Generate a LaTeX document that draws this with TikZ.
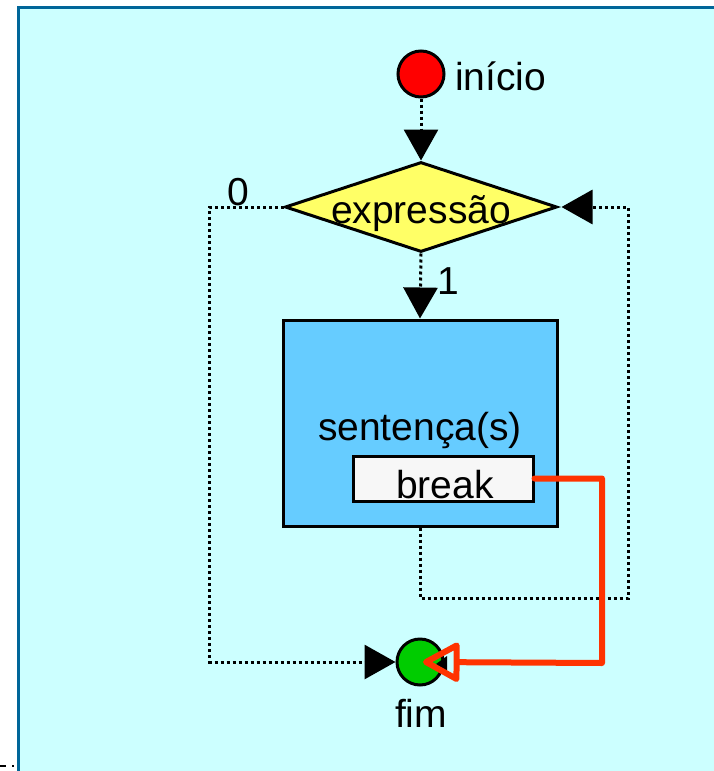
\documentclass[tikz,border=0pt]{standalone}
\usepackage{fontspec}
\setmainfont{Liberation Sans}
\usetikzlibrary{shapes.geometric,arrows.meta}
\definecolor{bgcyan}{RGB}{204,255,255}
\definecolor{frameblue}{RGB}{0,102,153}
\definecolor{boxblue}{RGB}{102,204,255}
\definecolor{condyellow}{RGB}{255,255,102}
\definecolor{breakred}{RGB}{255,51,0}
\definecolor{endgreen}{RGB}{0,204,0}
\begin{document}
\begin{tikzpicture}[x=1pt, y=-1pt,
    terminal/.style={circle, draw, line width=3pt, minimum size=46pt, inner sep=0pt},
    cond/.style={diamond, draw, line width=3pt, fill=condyellow, minimum width=272pt,
                 minimum height=90pt, inner sep=0pt},
    stmt/.style={rectangle, draw, line width=3pt, fill=boxblue, minimum width=274pt,
                 minimum height=206pt},
    brkbox/.style={rectangle, draw, line width=3pt, fill=black!3, minimum width=180pt,
                 minimum height=45pt},
    txt/.style={font=\fontsize{39}{44}\selectfont, inner sep=0pt, anchor=base},
    flow/.style={line width=3pt, dash pattern=on 3pt off 3pt, -{Triangle[length=31pt, width=34pt]}},
    jump/.style={line width=6pt, breakred, line join=round, line cap=round,
                 -{Triangle[open, round, length=40pt, width=42pt]}}
]
    \useasboundingbox (0,0) rectangle (713,771);
    \draw[frameblue, line width=3.5pt, fill=bgcyan] (18.5,7.5) rectangle (740,800);
    \draw[line width=1.5pt, dash pattern=on 6pt off 6pt] (0,766) -- (14,766);

    \node[terminal, fill=red]       (inicio) at (421,74)    {};
    \node[cond]                     (expr)   at (421,207)   {};
    \node[stmt]                     (sent)   at (420,423)   {};
    \node[brkbox]                   (brk)    at (443,478.5) {};
    \node[terminal, fill=endgreen]  (fim)    at (420,662)   {};

    \node[txt, anchor=base west] (inicioTxt) at (455,90)  {início};
    \node[txt]                   (exprTxt)   at (421,223) {expressão};
    \node[txt]                   (sentTxt)   at (420,440) {sentença(s)};
    \node[txt]                   (brkTxt)    at (445,498) {break};
    \node[txt]                   (fimTxt)    at (421,727) {fim};

    \coordinate (loopR) at (628,598);
    \coordinate (jumpR) at (602,663);

    \draw[flow] (inicio) -- (expr.north);
    \draw[flow] (expr.south) -- node[txt, anchor=base west, xshift=15pt, yshift=-8pt] (one) {1} (sent.north);
    \draw[flow] (expr.west) -- ++(-74,0) node[txt, anchor=base, xshift=29pt, yshift=2pt] (zero) {0} |- (fim.west);
    \draw[flow] (sent.south) |- (loopR) |- ([xshift=3pt]expr.east);

    % arrowhead hidden under the break arrow
    \fill ([xshift=16pt, yshift=-2pt]fim.center) -- ++(11,-8) -- ++(0,16) -- cycle;
    \draw[jump] (brk.east) -| (jumpR) -- ([xshift=3pt]fim.center);
\end{tikzpicture}
\end{document}
